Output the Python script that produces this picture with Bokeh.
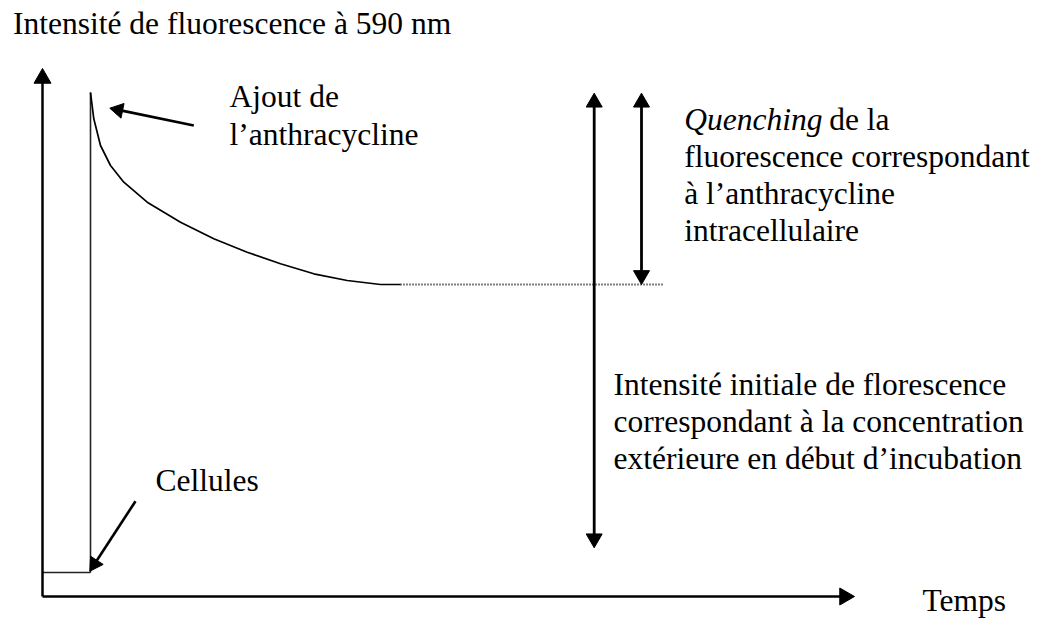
import numpy as np
from bokeh.plotting import figure
from bokeh.models import Range1d
from bokeh.core.properties import value
from bokeh.embed import file_html
from bokeh.resources import INLINE

# ---- data (time / intensity, arbitrary units; origin at the axes corner) ----
AXIS_T_END = 812          # end of the time axis arrow
AXIS_I_END = 528          # end of the intensity axis arrow

cells_t = [0, 48]         # cells only: baseline fluorescence
cells_i = [24, 24]

inject_t = [48, 48]       # addition of the anthracycline
inject_i = [24, 504]

decay_t = [48, 51.3, 58, 68, 81.3, 104.7, 138, 171.3, 204.7, 238, 271.3, 304.7, 338, 358]
decay_i = [504, 477.7, 451, 431, 414.3, 394.3, 374.3, 357.7, 344.3, 332.7, 322.7, 316, 312, 312]

plateau_t = [358, 620]    # dotted plateau
plateau_i = [312, 312]

# arrows: start -> tip  (axes, double arrows, pointers)
arrow_t0 = [0, 0, 551.7, 599, 151.3, 93]
arrow_i0 = [0, 0, 48.7, 312, 471, 95.3]
arrow_t1 = [0, AXIS_T_END, 551.7, 599, 67.3, 47.3]
arrow_i1 = [AXIS_I_END, 0, 503.3, 503.3, 488.3, 25.3]
arrow_both = [False, False, True, True, False, False]
arrow_w = [2.5, 2.5, 2.8, 2.8, 2.8, 2.6]
head_size = [17, 17, 16, 16, 15, 15]

# labels (x, baseline y)
label_text = ["Intensité de fluorescence à 590 nm",
              "Ajout de", "l\u2019anthracycline",
              "Cellules",
              "de la",
              "fluorescence  correspondant",
              "à l\u2019anthracycline",
              "intracellulaire",
              "Intensité initiale de florescence",
              "correspondant à la concentration",
              "extérieure en début d\u2019incubation",
              "Temps"]
label_t = [-29.5, 187, 187, 113, 786.7, 641.7, 641.7, 641.7, 571, 571, 571, 880]
label_i = [562, 489.3, 451.5, 105.3, 466, 429.3, 392, 355.3, 201, 163.7, 127, -14.7]

italic_text = ["Quenching"]
italic_t = [641.7]
italic_i = [466]

FSIZE = "31.5px"

p = figure(width=1057, height=619,
           x_range=Range1d(-42, 1015), y_range=Range1d(-23, 596),
           x_axis_type=None, y_axis_type=None,
           output_backend="svg", toolbar_location=None, min_border=0)
p.grid.visible = False
p.outline_line_color = None
p.background_fill_color = "white"
p.border_fill_color = "white"

# labels
for t, i, s in zip(label_t, label_i, label_text):
    p.text(x=[t], y=[i], text=[s], text_font=value("Liberation Serif"), text_font_size=value(FSIZE),
           text_baseline="alphabetic", text_align="left", text_color="black", y_offset=-11)
for t, i, s in zip(italic_t, italic_i, italic_text):
    p.text(x=[t], y=[i], text=[s], text_font=value("Liberation Serif"), text_font_size=value(FSIZE),
           text_font_style="italic", text_baseline="alphabetic", text_align="left",
           text_color="black", y_offset=-11)

# signal
p.line(cells_t, cells_i, line_width=1.6, line_color="#222222")
p.line(inject_t, inject_i, line_width=1.6, line_color="#222222")
p.line(decay_t, decay_i, line_width=1.7, line_color="black")
p.line(plateau_t, plateau_i, line_width=1.8, line_color="black", line_dash="1 2")

# arrows: shaft + triangular head(s) (1 data unit = 1 screen pixel on both axes)
t0, i0 = np.array(arrow_t0, float), np.array(arrow_i0, float)
t1, i1 = np.array(arrow_t1, float), np.array(arrow_i1, float)
both = np.array(arrow_both)
hs = np.array(head_size, float)
dt, di = t1 - t0, i1 - i0
L = np.hypot(dt, di)
ut, ui = dt / L, di / L
apex = hs / 2 * np.sqrt(3) * 2 / 3          # centre-to-apex distance of the triangle marker
et, ei = t1 - apex * ut, i1 - apex * ui      # end head centres
st = np.where(both, t0 + apex * ut, t0)      # start of shaft
si = np.where(both, i0 + apex * ui, i0)
ang = np.arctan2(ui, ut) - np.pi / 2

p.segment(x0=list(st), y0=list(si), x1=list(et), y1=list(ei),
          line_width=arrow_w, line_color="black")
p.scatter(x=list(et), y=list(ei), marker="triangle", size=list(hs), angle=list(ang),
          fill_color="black", line_color="black", line_width=1)
p.scatter(x=list(st[both]), y=list(si[both]), marker="triangle", size=list(hs[both]),
          angle=list(ang[both] + np.pi), fill_color="black", line_color="black", line_width=1)

open("out.html", "w").write(file_html(p, INLINE))
